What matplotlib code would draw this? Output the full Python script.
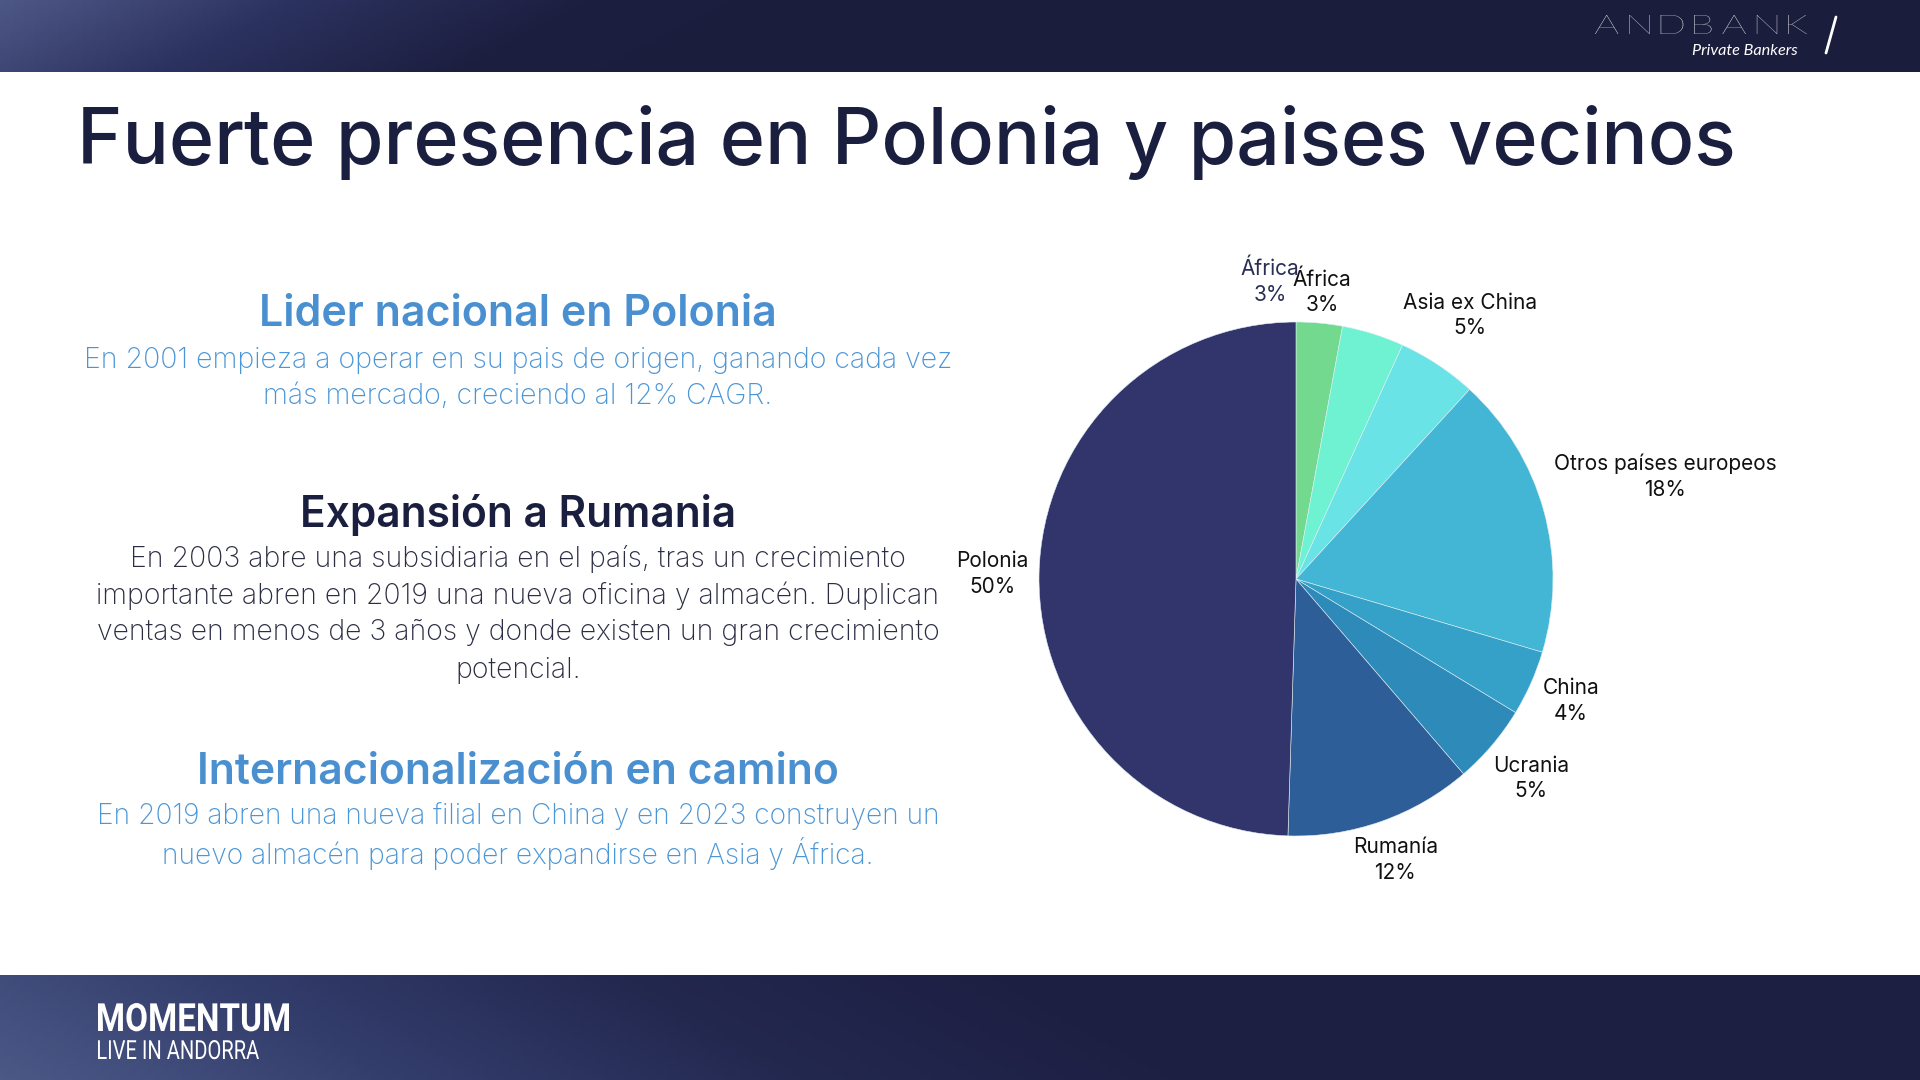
import matplotlib.pyplot as plt
import numpy as np
from matplotlib.colors import LinearSegmentedColormap
from matplotlib.textpath import TextPath
from matplotlib.patches import PathPatch
from matplotlib.font_manager import FontProperties
from matplotlib.transforms import Affine2D

##############################################################################
## Data
##############################################################################
regions = ['África', '', 'Asia ex China', 'Otros países europeos', 'China',
           'Ucrania', 'Rumanía', 'Polonia']
shares = [2.9, 3.9, 5.0, 17.8, 4.1, 5.0, 11.8, 49.5]
share_labels = ['3%', '', '5%', '18%', '4%', '5%', '12%', '50%']
extra_label = ('África', '3%')

title = 'Fuerte presencia en Polonia y paises vecinos'
headings = ['Lider nacional en Polonia', 'Expansión a Rumania',
            'Internacionalización en camino']
paragraphs = [
    ['En 2001 empieza a operar en su pais de origen, ganando cada vez',
     'más mercado, creciendo al 12% CAGR.'],
    ['En 2003 abre una subsidiaria en el país, tras un crecimiento',
     'importante abren en 2019 una nueva oficina y almacén. Duplican',
     'ventas en menos de 3 años y donde existen un gran crecimiento',
     'potencial.'],
    ['En 2019 abren una nueva filial en China y en 2023 construyen un',
     'nuevo almacén para poder expandirse en Asia y África.'],
]

##############################################################################
## Style
##############################################################################
W, H = 1920, 1080
NAVY = '#1b1f3f'
BLUE = '#4a90d0'
DARK = '#2b2d42'
wedge_colors = ['#72d98f', '#6ef2d2', '#6ae3e6', '#43b6d5', '#35a0c8',
                '#2e8ab8', '#2e5e98', '#32356c']
label_dist = [1.12, 1.2, 1.23, 1.49, 1.17, 1.2, 1.16, 1.18]
heading_colors = [BLUE, NAVY, BLUE]
body_colors = ['#4b96d6', DARK, '#4b96d6']
heading_y = [315, 515, 772]
heading_w = [518, 434, 641]
body_y0 = [360, 559, 816]
body_w = [872, 845, 845]
line_gap = 37
col_x = 518

plt.rcParams['font.family'] = ['Inter', 'DejaVu Sans']

fig = plt.figure(figsize=(W / 100, H / 100), dpi=100)
bg = fig.add_axes([0, 0, 1, 1])
bg.set_xlim(0, W)
bg.set_ylim(H, 0)
bg.axis('off')
renderer = fig.canvas.get_renderer()


def fit_size(s, width, **kw):
    t = bg.text(0, 0, s, fontsize=10, **kw)
    w = t.get_window_extent(renderer).width
    t.remove()
    return 10 * width / w


def boxed_text(s, x0, x1, top, base, prop, color='white'):
    # text outline squeezed into a box, for the condensed footer lettering
    tp = TextPath((0, 0), s, size=100, prop=prop)
    ext = tp.get_extents()
    sx = (x1 - x0) / ext.width
    sy = (base - top) / ext.y1
    tr = Affine2D().translate(-ext.x0, 0).scale(sx, -sy).translate(x0, base)
    bg.add_patch(PathPatch(tr.transform_path(tp), facecolor=color, edgecolor='none', zorder=3))


def wide_text(s, x0, x1, top, base, prop, stretch=1.4, color='white'):
    # letters widened and spread evenly between x0 and x1 (logo lettering)
    paths = [TextPath((0, 0), ch, size=100, prop=prop) for ch in s]
    cap = TextPath((0, 0), 'H', size=100, prop=prop).get_extents().y1
    sy = (base - top) / cap
    sx = sy * stretch
    ws = [p.get_extents().width * sx for p in paths]
    gap = ((x1 - x0) - sum(ws)) / (len(s) - 1)
    x = x0
    for p, w in zip(paths, ws):
        e = p.get_extents()
        tr = Affine2D().translate(-e.x0, 0).scale(sx, -sy).translate(x, base)
        bg.add_patch(PathPatch(tr.transform_path(p), facecolor=color, edgecolor='none', zorder=3))
        x += w + gap


# header / footer bands with a light corner gradient
band = LinearSegmentedColormap.from_list('band', ['#4d5785', '#2c3260', '#1c1f40', '#1b1d3c'])
gx, gy = np.meshgrid(np.linspace(0, 1, 400), np.linspace(0, 1, 20))
grad = np.clip(gx * 2.2 + gy * 0.15, 0, 1)
bg.imshow(grad, cmap=band, extent=(0, W, 72, 0), aspect='auto', zorder=0)
band2 = LinearSegmentedColormap.from_list('band2', ['#4b5886', '#333d6c', '#23284f', '#1d1f42'])
grad2 = np.clip(gx * 1.6 + (1 - gy) * 0.15, 0, 1)
bg.imshow(grad2, cmap=band2, extent=(0, W, H, 975), aspect='auto', zorder=0)

# logo
wide_text('ANDBANK', 1595, 1807, 15, 34, FontProperties(family='Lato', weight='light'), stretch=1.45)
bg.text(1798, 55, 'Private Bankers', fontsize=fit_size('Private Bankers', 106, style='italic', family='Lato'),
        style='italic', color='white', ha='right', va='baseline', family='Lato')
bg.plot([1836, 1826], [17, 53], color='white', lw=2, solid_capstyle='round')

# footer brand
boxed_text('MOMENTUM', 98, 289, 1003, 1031, FontProperties(family='Roboto', weight='bold'))
boxed_text('LIVE IN ANDORRA', 98, 259, 1040, 1059, FontProperties(family='Roboto', weight='normal'))

# title
bg.text(77, 164, title, fontsize=fit_size(title, 1658, fontweight='medium'),
        fontweight='medium', color=NAVY, va='baseline', ha='left')

# left text column
for i, head in enumerate(headings):
    bg.text(col_x, heading_y[i], head,
            fontsize=fit_size(head, heading_w[i], fontweight='semibold'),
            fontweight='semibold', color=heading_colors[i], ha='center', va='center')
    lines = paragraphs[i]
    widest = max(lines, key=len)
    fs = fit_size(widest, body_w[i], fontweight='light')
    for j, line in enumerate(lines):
        bg.text(col_x, body_y0[i] + j * line_gap, line, fontsize=fs,
                fontweight='light', color=body_colors[i], ha='center', va='center')

##############################################################################
## Pie
##############################################################################
cx, cy, R = 1296, 579, 257
span = 1.6
side = 2 * span * R
ax = fig.add_axes([(cx - side / 2) / W, (H - cy - side / 2) / H, side / W, side / H])
wedges, _ = ax.pie(shares, colors=wedge_colors, startangle=90, counterclock=False,
                   radius=1, wedgeprops=dict(linewidth=0.4, edgecolor='#dfeff5'))
ax.set_xlim(-span, span)
ax.set_ylim(-span, span)
ax.set_aspect('equal')
ax.axis('off')

cum = np.cumsum([0] + shares)
for i, (name, pct) in enumerate(zip(regions, share_labels)):
    if not name:
        continue
    mid = (cum[i] + cum[i + 1]) / 2 / 100 * 2 * np.pi
    ang = np.pi / 2 - mid
    r = label_dist[i]
    ax.text(r * np.cos(ang), r * np.sin(ang), name + '\n' + pct, fontsize=15,
            color='#111111', ha='center', va='center', linespacing=1.35,
            multialignment='center')

# extra label drawn over the chart, left of the first wedge
ang = np.pi / 2 + np.deg2rad(5)
ax.text(1.16 * np.cos(ang), 1.16 * np.sin(ang), extra_label[0] + '\n' + extra_label[1],
        fontsize=15, color='#2a2d55', ha='center', va='center', linespacing=1.35,
        multialignment='center')

fig.savefig('out.png', dpi=100)
